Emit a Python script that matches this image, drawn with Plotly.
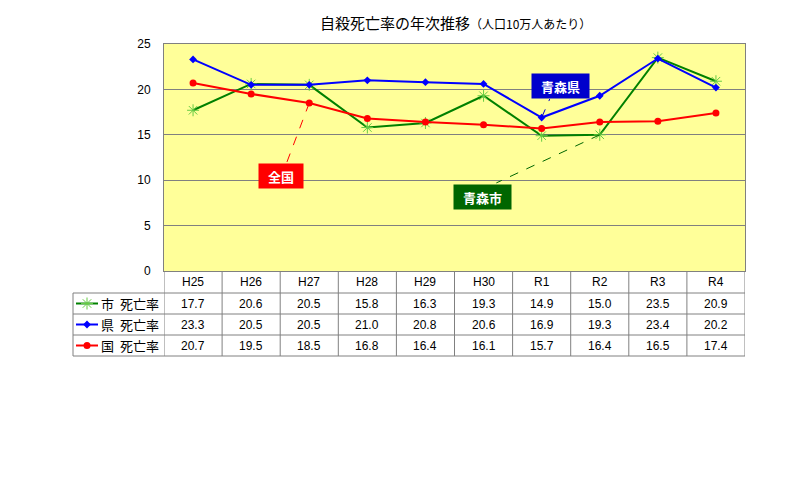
import plotly.graph_objects as go

years = ["H25", "H26", "H27", "H28", "H29", "H30", "R1", "R2", "R3", "R4"]
city = [17.7, 20.6, 20.5, 15.8, 16.3, 19.3, 14.9, 15.0, 23.5, 20.9]
pref = [23.3, 20.5, 20.5, 21.0, 20.8, 20.6, 16.9, 19.3, 23.4, 20.2]
nation = [20.7, 19.5, 18.5, 16.8, 16.4, 16.1, 15.7, 16.4, 16.5, 17.4]
row_heads = ["市", "県", "国"]
row_label = "死亡率"

FONT = "Liberation Sans, Arial, Noto Sans CJK JP"

# layout helpers (pixels -> paper)
L, R, T, B = 73, 55, 44, 133
W, H = 800, 489
pw, ph = W - L - R, H - T - B
def px(x): return (x - L) / pw
def py(y): return (H - B - y) / ph

x_dom0 = px(164)
y_dom0 = py(271)

fig = go.Figure()

series = [
    (city, "#008000", dict(symbol="asterisk-open", size=10, color="#66cc44", line=dict(width=1, color="#66cc44"))),
    (pref, "#0000FF", dict(symbol="diamond", size=6, color="#0000FF")),
    (nation, "#FF0000", dict(symbol="circle", size=7, color="#FF0000")),
]
for vals, col, mk in series:
    fig.add_trace(go.Scatter(x=years, y=vals, mode="lines+markers",
                             line=dict(color=col, width=2), marker=mk,
                             showlegend=False, hoverinfo="skip"))

# legend symbols in the table's first column
row_y = [303.5, 324.5, 345.5]
for (vals, col, mk), yy in zip(series, row_y):
    fig.add_trace(go.Scatter(x=[3, 14, 25], y=[yy, yy, yy], mode="lines",
                             line=dict(color=col, width=2),
                             xaxis="x2", yaxis="y2", showlegend=False, hoverinfo="skip"))
    fig.add_trace(go.Scatter(x=[14], y=[yy], mode="markers", marker=mk,
                             xaxis="x2", yaxis="y2", showlegend=False, hoverinfo="skip"))

grid = "#808080"
shapes = [dict(type="rect", xref="x domain", yref="y domain", x0=0, x1=1, y0=0, y1=1,
               fillcolor="#FFFF99", line=dict(width=0), layer="below")]
# table horizontal lines
for yy in [293, 314, 335, 356]:
    shapes.append(dict(type="line", xref="paper", yref="paper", x0=0, x1=1,
                       y0=py(yy), y1=py(yy), line=dict(color=grid, width=1)))
# table vertical lines
for i in range(len(years) + 1):
    shapes.append(dict(type="line", xref="x", yref="paper", x0=i - 0.5, x1=i - 0.5,
                       y0=0, y1=y_dom0, line=dict(color=grid, width=1)))
shapes.append(dict(type="line", xref="paper", yref="paper", x0=0, x1=0,
                   y0=0, y1=py(293), line=dict(color=grid, width=1)))

annotations = []
# header row
for yr in years:
    annotations.append(dict(x=yr, y=py(282), xref="x", yref="paper", text=yr,
                            xanchor="center", yanchor="middle",
                            showarrow=False, font=dict(size=12, color="black")))
# data rows
for vals, yy in zip([city, pref, nation], row_y):
    for yr, v in zip(years, vals):
        annotations.append(dict(x=yr, y=py(yy), xref="x", yref="paper", text=f"{v:.1f}",
                                xanchor="center", yanchor="middle",
                                showarrow=False, font=dict(size=12, color="black")))
for head, yy in zip(row_heads, row_y):
    annotations.append(dict(x=px(99), y=py(yy), xref="paper", yref="paper", text=head,
                            xanchor="left", yanchor="middle", showarrow=False,
                            font=dict(size=13, color="black", family="Noto Sans CJK JP")))
    annotations.append(dict(x=px(161), y=py(yy), xref="paper", yref="paper", text=row_label,
                            xanchor="right", yanchor="middle", showarrow=False,
                            font=dict(size=13, color="black", family="Noto Sans CJK JP")))

# title
annotations.append(dict(x=px(455), y=py(22), xref="paper", yref="paper",
                        text="自殺死亡率の年次推移<span style='font-size:12px'>（人口10万人あたり）</span>",
                        xanchor="center", yanchor="middle",
                        showarrow=False, font=dict(size=15, color="black", family="Noto Sans CJK JP")))

# callout boxes
callouts = [
    ("全国", 1.52, 10.45, "#FF0000", 2, 18.5, 1.61, 11.9, "#FF0000", 42),
    ("青森市", 4.99, 8.15, "#006600", 7, 15.0, 5.22, 9.7, "#006600", 55),
    ("青森県", 6.32, 20.35, "#0000CC", 6, 16.9, 6.14, 18.95, "#0000CC", 55),
]
for txt, bx, by, bg, lx, ly, ex, ey, lc, w in callouts:
    shapes.append(dict(type="line", xref="x", yref="y", x0=lx, y0=ly, x1=ex, y1=ey,
                       line=dict(color=lc, width=1, dash="dash")))
    annotations.append(dict(x=bx, y=by, xref="x", yref="y", text=f"<b>{txt}</b>",
                            showarrow=False, bgcolor=bg, width=w, height=22,
                            font=dict(size=13, color="white", family="Noto Sans CJK JP")))

fig.update_layout(
    width=W, height=H,
    margin=dict(l=L, r=R, t=T, b=B),
    paper_bgcolor="white",
    plot_bgcolor="white",
    font=dict(family=FONT, color="black"),
    xaxis=dict(type="category", domain=[x_dom0, 1], range=[-0.5, 9.5],
               showticklabels=False, showgrid=False, ticks="",
               showline=True, linecolor=grid, mirror=True, zeroline=False),
    yaxis=dict(domain=[y_dom0, 1], range=[0, 25], dtick=5, showgrid=True,
               gridcolor=grid, gridwidth=1, showline=True, linecolor=grid, mirror=True,
               zeroline=False, tickfont=dict(size=12), ticks="", ticklabelstandoff=10),
    xaxis2=dict(domain=[0, x_dom0], range=[0, 91], visible=False, fixedrange=True,
                anchor="y2"),
    yaxis2=dict(domain=[0, y_dom0], range=[356, 271], visible=False, fixedrange=True,
                anchor="x2"),
    shapes=shapes,
    annotations=annotations,
)

fig.write_html("out.html", config={"displayModeBar": False})

# remove the browser's default body margin so the figure sits at the page origin
with open("out.html", encoding="utf-8") as f:
    page = f.read()
page = page.replace("<head>", "<head><style>body{margin:0}</style>", 1)
with open("out.html", "w", encoding="utf-8") as f:
    f.write(page)
